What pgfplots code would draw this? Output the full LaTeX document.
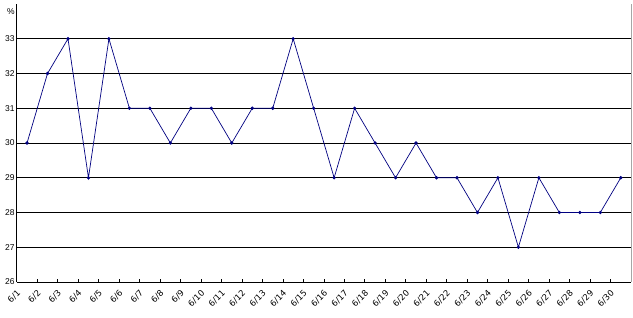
\documentclass[border=0pt]{standalone}
\usepackage{fontspec}
\setmainfont{Liberation Sans}
\newfontfamily\dv{DejaVu Sans}
\usepackage{pgfplots}
\pgfplotsset{compat=1.18}
\definecolor{navyline}{RGB}{0,0,128}
\begin{document}
\begin{tikzpicture}[x=1bp,y=1bp]
\begin{axis}[
  at={(0,0)}, anchor=origin,
  scale only axis,
  width=614.2bp, height=278bp,
  xmin=0.5, xmax=30.5,
  ymin=26, ymax=34,
  axis lines*=left,
  axis line style={black, line width=0.8bp},
  xtick={1,...,30},
  xticklabels={6/1,6/2,6/3,6/4,6/5,6/6,6/7,6/8,6/9,6/10,6/11,6/12,6/13,6/14,6/15,6/16,6/17,6/18,6/19,6/20,6/21,6/22,6/23,6/24,6/25,6/26,6/27,6/28,6/29,6/30},
  major x tick style={draw=none},
  minor xtick={1.5,2.5,...,29.5},
  minor x tick style={black, line width=0.8bp},
  minor tick length=3.5bp,
  tick align=inside,
  xticklabel style={xshift=-8bp, yshift=-10bp, rotate=45, anchor=east, font=\dv\fontsize{8.5}{9}\selectfont, inner sep=0bp},
  ytick={26,...,33},
  extra y ticks={33.78},
  extra y tick labels={\%},
  extra y tick style={grid=none, major tick length=0pt},
  ymajorgrids,
  grid style={black, line width=0.8bp},
  major y tick style={draw=none},
  yticklabel style={font=\fontsize{8.5}{9}\selectfont, inner sep=1bp, xshift=-1bp},
  /pgf/number format/assume math mode=true,
  clip=false,
]
\addplot[navyline, line width=0.7bp, mark=*, mark size=1.3bp, mark options={fill=navyline}] coordinates {
(1,30) (2,32) (3,33) (4,29) (5,33) (6,31) (7,31) (8,30) (9,31) (10,31)
(11,30) (12,31) (13,31) (14,33) (15,31) (16,29) (17,31) (18,30) (19,29) (20,30)
(21,29) (22,29) (23,28) (24,29) (25,27) (26,29) (27,28) (28,28) (29,28) (30,29)
};
\draw[gray!70, line width=0.8bp] (rel axis cs:1,0) -- (rel axis cs:1,1);
\end{axis}
\useasboundingbox (-16.8,-35) rectangle (616.2,282);
\end{tikzpicture}
\end{document}
